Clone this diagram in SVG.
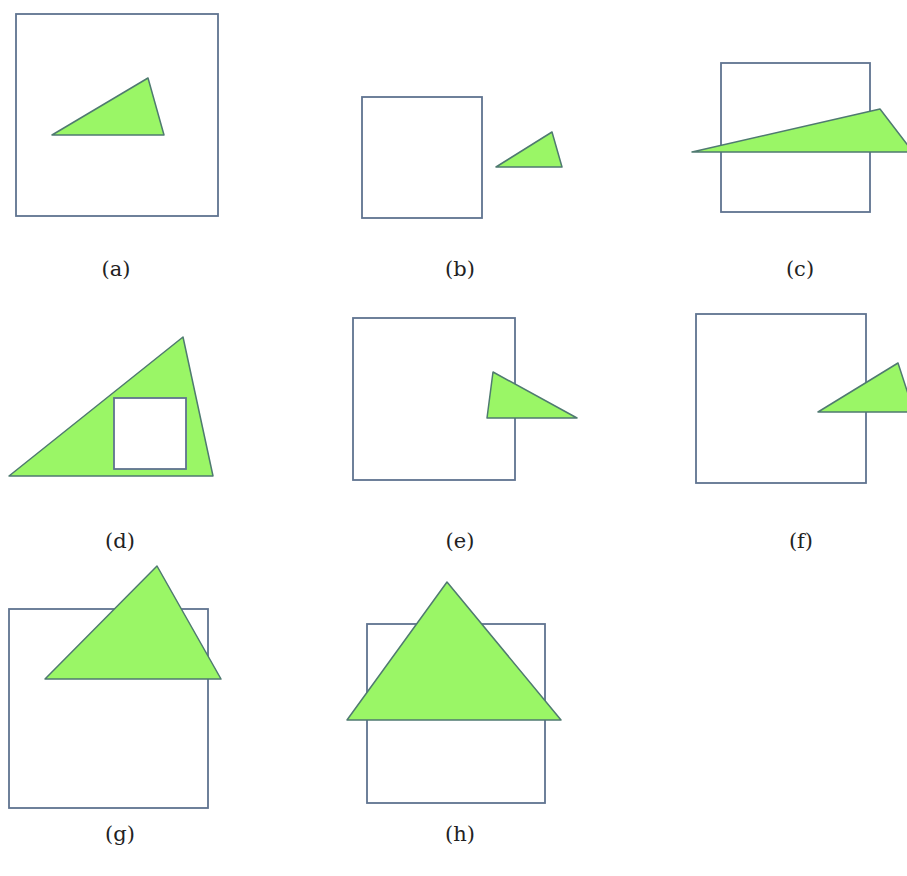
<svg xmlns="http://www.w3.org/2000/svg" width="907" height="876" viewBox="0 0 907 876">
<style>
.sq{fill:none;stroke:#5f7390;stroke-width:1.8}
.sqw{fill:#ffffff;stroke:#5f7390;stroke-width:1.8}
.tri{fill:#9af666;stroke:#4f7a70;stroke-width:1.5;stroke-linejoin:round}
.lbl{font-family:"DejaVu Serif","Liberation Serif",serif;font-size:21px;fill:#222;text-anchor:middle}
</style>
<rect width="907" height="876" fill="#ffffff"/>
<g id="a">
<rect class="sq" x="16" y="14" width="202" height="202"/>
<polygon class="tri" points="52,135 148,78 164,135"/>
<text class="lbl" x="116" y="276">(a)</text>
</g>
<g id="b">
<rect class="sq" x="362" y="97" width="120" height="121"/>
<polygon class="tri" points="496,167 552,132 562,167"/>
<text class="lbl" x="460" y="276">(b)</text>
</g>
<g id="c">
<rect class="sq" x="721" y="63" width="149" height="149"/>
<polygon class="tri" points="692,152 880,109 913,152"/>
<text class="lbl" x="800" y="276">(c)</text>
</g>
<g id="d">
<polygon class="tri" points="9,476 183,337 213,476"/>
<rect class="sqw" x="114" y="398" width="72" height="71"/>
<text class="lbl" x="120" y="548">(d)</text>
</g>
<g id="e">
<rect class="sq" x="353" y="318" width="162" height="162"/>
<polygon class="tri" points="493,372 487,418 577,418"/>
<text class="lbl" x="460" y="548">(e)</text>
</g>
<g id="f">
<rect class="sq" x="696" y="314" width="170" height="169"/>
<polygon class="tri" points="818,412 898,363 914,412"/>
<text class="lbl" x="801" y="548">(f)</text>
</g>
<g id="g">
<rect class="sq" x="9" y="609" width="199" height="199"/>
<polygon class="tri" points="45,679 157,566 221,679"/>
<text class="lbl" x="120" y="841">(g)</text>
</g>
<g id="h">
<rect class="sq" x="367" y="624" width="178" height="179"/>
<polygon class="tri" points="347,720 447,582 561,720"/>
<text class="lbl" x="460" y="841">(h)</text>
</g>
</svg>
